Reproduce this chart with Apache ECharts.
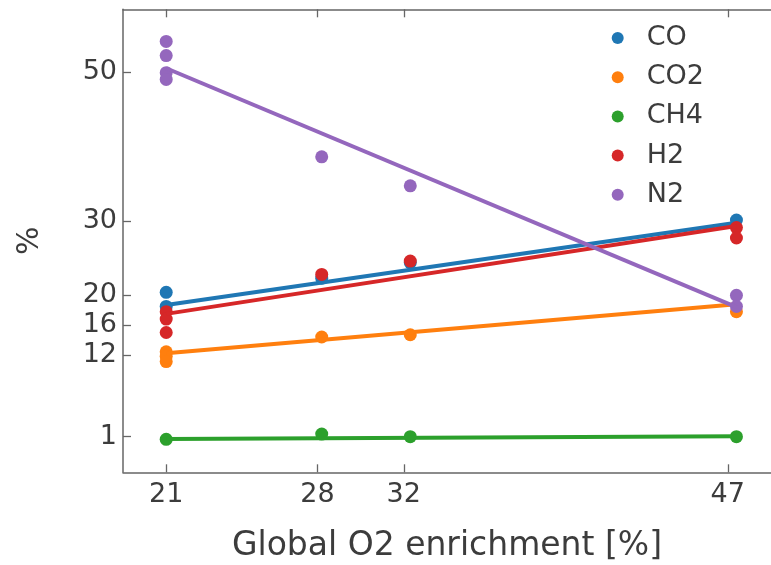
<!DOCTYPE html>
<html><head><meta charset="utf-8">
<script src="https://cdn.jsdelivr.net/npm/echarts@6/dist/echarts.min.js"></script>
<style>html,body{margin:0;padding:0;background:#fff}#c{width:771px;height:565px}</style>
</head><body><div id="c"></div>
<script>
const seriesNames = ['CO', 'CO2', 'CH4', 'H2', 'N2'];
const colors = ['#1f77b4', '#ff7f0e', '#2ca02c', '#d62728', '#9467bd'];
const xTicks = [21, 28, 32, 47];
const yTicks = [1, 12, 16, 20, 30, 50];

const coX  = [21, 21, 28.2, 32.3, 47.4];
const coY  = [20.4, 18.5, 22.3, 24.4, 30.1];
const co2X = [21, 21, 21, 28.2, 32.3, 47.4];
const co2Y = [12.4, 11.8, 11.1, 14.4, 14.7, 17.8];
const ch4X = [21, 28.2, 32.3, 47.4];
const ch4Y = [0.65, 1.35, 1.0, 1.0];
const h2X  = [21, 21, 21, 28.2, 32.3, 47.4, 47.4];
const h2Y  = [17.8, 16.8, 15.0, 22.8, 24.6, 29.1, 27.7];
const n2X  = [21, 21, 21, 21, 28.2, 32.3, 47.4, 47.4];
const n2Y  = [54.1, 52.2, 49.9, 49.0, 38.6, 34.7, 20.0, 18.5];

const fitX   = [21, 47.4];
const coFit  = [18.7, 29.75];
const co2Fit = [12.2, 18.8];
const ch4Fit = [0.7, 1.05];
const h2Fit  = [17.5, 29.3];
const n2Fit  = [50.5, 18.4];

const pointsX = [coX, co2X, ch4X, h2X, n2X];
const pointsY = [coY, co2Y, ch4Y, h2Y, n2Y];
const fits = [coFit, co2Fit, ch4Fit, h2Fit, n2Fit];

const font = 'DejaVu Sans';
const txt = '#3c3c3c';
const axisCol = '#666';

const series = [];
seriesNames.forEach((n, i) => {
  series.push({
    name: n, type: 'scatter', symbol: 'circle', symbolSize: 13,
    itemStyle: { color: colors[i], opacity: 1 },
    data: pointsX[i].map((x, k) => [x, pointsY[i][k]]),
    z: 2 + i * 2
  });
  series.push({
    name: n + ' fit', type: 'line', showSymbol: false, silent: true,
    lineStyle: { color: colors[i], width: 4 },
    itemStyle: { color: colors[i] },
    data: fitX.map((x, k) => [x, fits[i][k]]),
    z: 3 + i * 2
  });
});

const chart = echarts.init(document.getElementById('c'));
chart.setOption({
  animation: false,
  backgroundColor: '#fff',
  grid: { left: 123, right: 0, top: 9.3, bottom: 92.7, outerBoundsMode: 'none', containLabel: false },
  legend: {
    data: seriesNames.map(n => ({ name: n, icon: 'circle' })),
    orient: 'vertical', left: 611.7, top: 24.5, padding: 0,
    itemWidth: 12, itemHeight: 12, itemGap: 12.2,
    textStyle: { fontFamily: font, fontSize: 27, color: txt, lineHeight: 26, padding: [0, 0, 0, 18] }
  },
  xAxis: [{
    type: 'value', min: 19, max: 49, position: 'bottom',
    name: 'Global O2 enrichment [%]', nameLocation: 'middle', nameGap: 58,
    nameTextStyle: { fontFamily: font, fontSize: 33, color: txt },
    axisLine: { show: true, onZero: false, lineStyle: { color: axisCol, width: 1.5 } },
    axisTick: { show: true, inside: true, length: 8, customValues: xTicks, lineStyle: { color: axisCol, width: 1.3 } },
    axisLabel: { customValues: xTicks, fontFamily: font, fontSize: 27, color: txt, margin: 9 },
    splitLine: { show: false }
  }, {
    type: 'value', min: 19, max: 49, position: 'top',
    axisLine: { show: true, onZero: false, lineStyle: { color: axisCol, width: 1.5 } },
    axisTick: { show: true, inside: true, length: 8, customValues: xTicks, lineStyle: { color: axisCol, width: 1.3 } },
    axisLabel: { show: false },
    splitLine: { show: false }
  }],
  yAxis: [{
    type: 'value', min: -3.78, max: 58.42,
    name: '%', nameLocation: 'middle', nameGap: 78, nameRotate: 90,
    nameTextStyle: { fontFamily: font, fontSize: 30, color: txt },
    axisLine: { show: true, onZero: false, lineStyle: { color: axisCol, width: 1.5 } },
    axisTick: { show: true, inside: true, length: 8, customValues: yTicks, lineStyle: { color: axisCol, width: 1.3 } },
    axisLabel: { customValues: yTicks, fontFamily: font, fontSize: 27, color: txt, margin: 6 },
    splitLine: { show: false }
  }],
  series: series
});
</script>
</body></html>
